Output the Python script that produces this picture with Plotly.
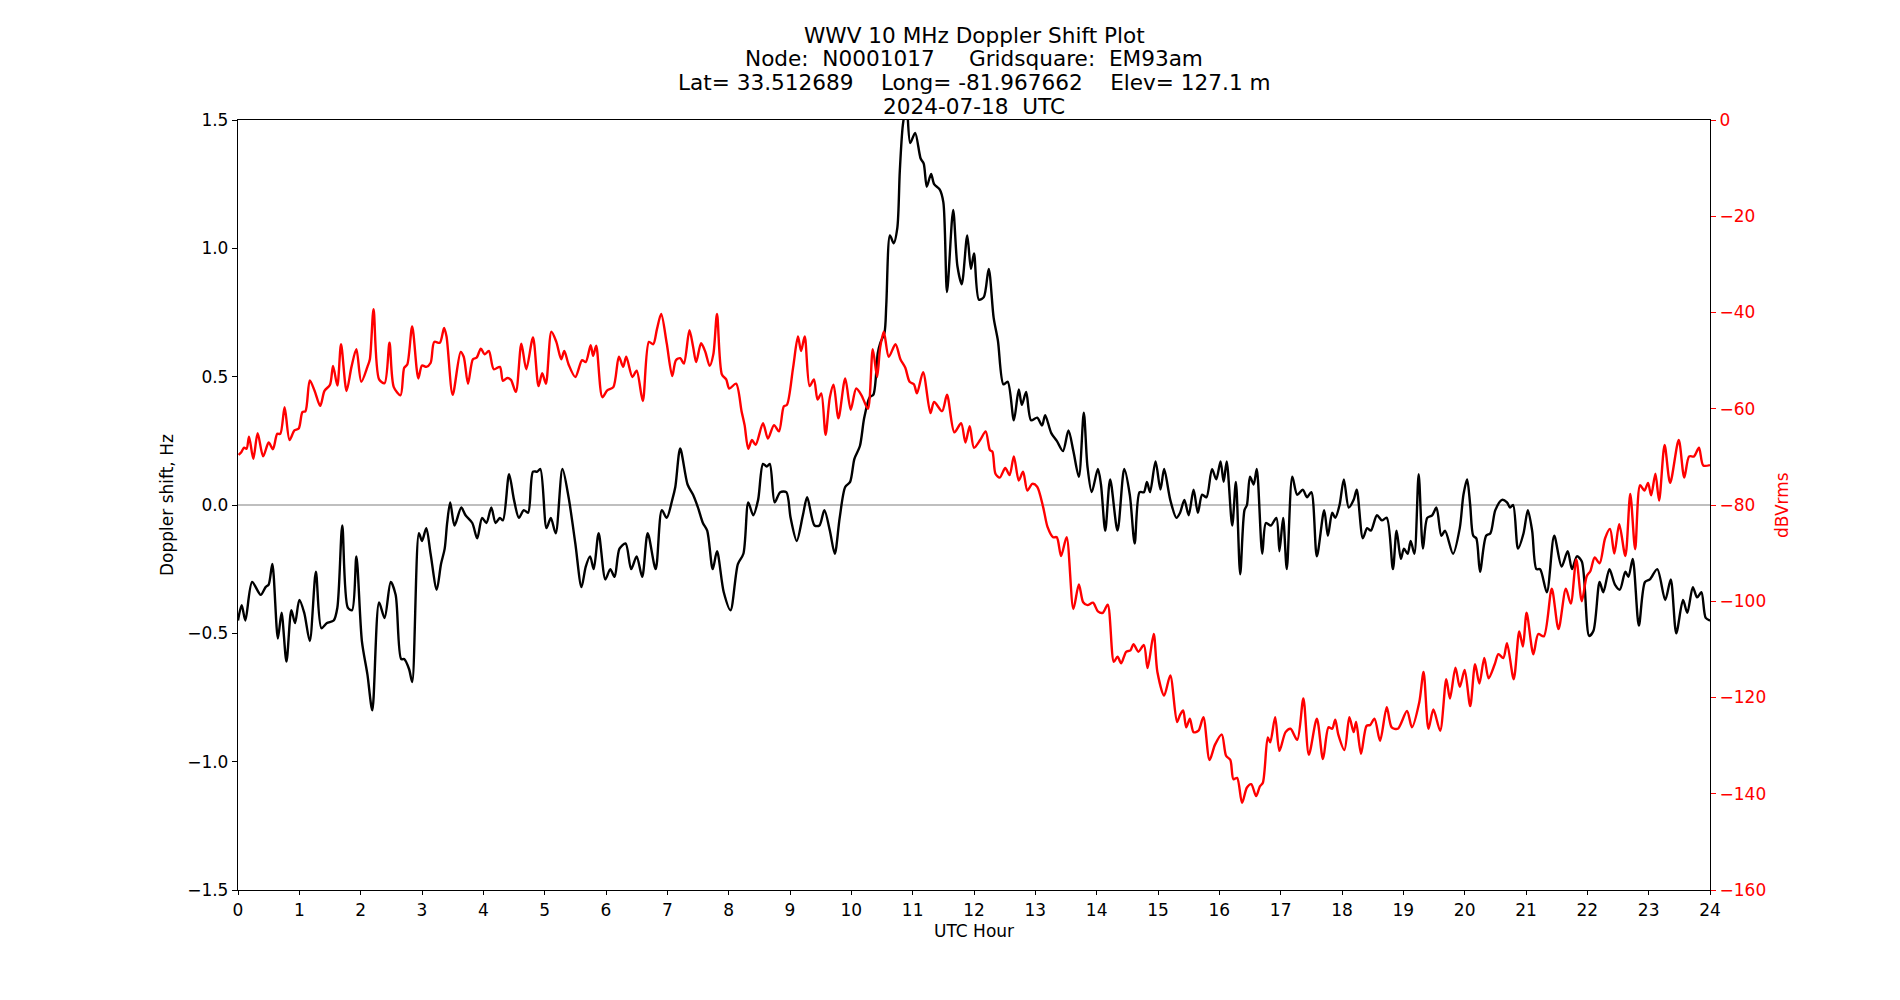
import plotly.graph_objects as go

# ---- Doppler shift (black, left axis) ----
hours_doppler = [
    0.00, 0.06, 0.12, 0.23, 0.37, 0.45, 0.50, 0.56, 0.65, 0.71, 0.79, 0.87, 0.93, 1.00, 1.08, 1.17,
    1.27, 1.36, 1.45, 1.56, 1.62, 1.70, 1.79, 1.86, 1.93, 2.02, 2.11, 2.19, 2.30, 2.39, 2.49, 2.57,
    2.66, 2.71, 2.79, 2.84, 2.95, 3.00, 3.07, 3.14, 3.24, 3.31, 3.37, 3.41, 3.46, 3.53, 3.64, 3.71,
    3.82, 3.90, 3.98, 4.05, 4.13, 4.20, 4.27, 4.32, 4.42, 4.50, 4.58, 4.66, 4.73, 4.81, 4.88, 4.93,
    5.03, 5.10, 5.18, 5.29, 5.39, 5.50, 5.60, 5.67, 5.74, 5.80, 5.88, 5.99, 6.07, 6.14, 6.22, 6.32,
    6.41, 6.50, 6.59, 6.68, 6.81, 6.91, 6.99, 7.08, 7.13, 7.21, 7.33, 7.42, 7.50, 7.58, 7.65, 7.74,
    7.81, 7.92, 8.03, 8.15, 8.24, 8.32, 8.40, 8.48, 8.56, 8.62, 8.67, 8.75, 8.84, 8.94, 9.01, 9.11,
    9.21, 9.28, 9.40, 9.48, 9.56, 9.65, 9.73, 9.81, 9.90, 9.98, 10.05, 10.14, 10.21, 10.30, 10.36,
    10.43, 10.47, 10.54, 10.57, 10.63, 10.69, 10.75, 10.79, 10.84, 10.90, 10.96, 11.04, 11.13, 11.18,
    11.23, 11.30, 11.35, 11.44, 11.50, 11.56, 11.66, 11.73, 11.80, 11.89, 11.95, 12.00, 12.08, 12.16,
    12.24, 12.32, 12.39, 12.48, 12.55, 12.65, 12.73, 12.78, 12.85, 12.93, 13.03, 13.11, 13.16, 13.26,
    13.35, 13.45, 13.54, 13.62, 13.71, 13.79, 13.85, 13.92, 14.02, 14.07, 14.14, 14.22, 14.34, 14.45,
    14.54, 14.62, 14.70, 14.77, 14.82, 14.87, 14.96, 15.04, 15.10, 15.20, 15.30, 15.36, 15.43, 15.50,
    15.58, 15.65, 15.72, 15.79, 15.88, 15.95, 16.02, 16.07, 16.12, 16.21, 16.27, 16.34, 16.41, 16.45,
    16.50, 16.56, 16.61, 16.70, 16.76, 16.84, 16.93, 16.98, 17.04, 17.10, 17.19, 17.27, 17.36, 17.43,
    17.50, 17.59, 17.71, 17.77, 17.84, 17.89, 17.96, 18.03, 18.11, 18.19, 18.24, 18.34, 18.41, 18.47,
    18.57, 18.65, 18.73, 18.83, 18.89, 18.96, 19.01, 19.07, 19.12, 19.18, 19.25, 19.32, 19.39, 19.47,
    19.54, 19.62, 19.68, 19.81, 19.92, 19.98, 20.04, 20.09, 20.14, 20.19, 20.25, 20.35, 20.42, 20.50,
    20.61, 20.69, 20.74, 20.79, 20.87, 20.96, 21.03, 21.10, 21.17, 21.23, 21.34, 21.46, 21.58, 21.68,
    21.75, 21.83, 21.91, 22.03, 22.10, 22.20, 22.26, 22.36, 22.45, 22.53, 22.62, 22.67, 22.74, 22.84,
    22.94, 23.02, 23.14, 23.27, 23.36, 23.45, 23.56, 23.63, 23.72, 23.79, 23.86, 23.93, 24.00,
]
doppler_hz = [
    -0.45, -0.39, -0.45, -0.30, -0.35, -0.32, -0.31, -0.23, -0.52, -0.42, -0.61, -0.41, -0.46, -0.37, -0.42, -0.53,
    -0.26, -0.48, -0.46, -0.45, -0.40, -0.08, -0.40, -0.41, -0.20, -0.53, -0.66, -0.80, -0.38, -0.44, -0.30, -0.35,
    -0.60, -0.60, -0.64, -0.69, -0.11, -0.14, -0.09, -0.19, -0.33, -0.23, -0.17, -0.07, 0.01, -0.08, -0.01, -0.04,
    -0.07, -0.13, -0.05, -0.07, -0.01, -0.07, -0.05, -0.06, 0.12, 0.02, -0.05, -0.02, -0.03, 0.13, 0.13, 0.14,
    -0.09, -0.05, -0.11, 0.14, 0.03, -0.15, -0.32, -0.24, -0.20, -0.25, -0.11, -0.29, -0.25, -0.28, -0.17, -0.15,
    -0.25, -0.20, -0.28, -0.11, -0.25, -0.02, -0.05, 0.02, 0.07, 0.22, 0.08, 0.04, -0.01, -0.07, -0.10, -0.25,
    -0.18, -0.34, -0.41, -0.23, -0.19, 0.01, -0.04, 0.02, 0.16, 0.15, 0.16, 0.01, 0.05, 0.05, -0.05, -0.14,
    -0.04, 0.03, -0.08, -0.08, -0.02, -0.10, -0.19, -0.05, 0.07, 0.09, 0.18, 0.23, 0.34, 0.42, 0.43,
    0.59, 0.63, 0.67, 0.78, 1.05, 1.02, 1.08, 1.30, 1.48, 1.56, 1.41, 1.45, 1.35, 1.33,
    1.24, 1.29, 1.25, 1.23, 1.18, 0.83, 1.15, 0.93, 0.86, 1.05, 0.92, 0.98, 0.80, 0.81,
    0.92, 0.73, 0.64, 0.47, 0.48, 0.33, 0.45, 0.39, 0.44, 0.33, 0.34, 0.31, 0.35, 0.28,
    0.25, 0.21, 0.29, 0.21, 0.11, 0.36, 0.15, 0.05, 0.14, 0.08, -0.10, 0.10, -0.10, 0.14,
    0.04, -0.15, 0.05, 0.05, 0.09, 0.05, 0.17, 0.06, 0.14, 0.02, -0.05, -0.03, 0.02, -0.04,
    0.06, -0.03, 0.04, 0.03, 0.14, 0.10, 0.17, 0.09, 0.17, -0.08, 0.09, -0.27, -0.02, 0.00,
    0.11, 0.08, 0.14, -0.19, -0.07, -0.08, -0.05, -0.18, -0.05, -0.25, 0.11, 0.04, 0.06, 0.03,
    0.05, -0.20, -0.02, -0.12, -0.03, -0.05, 0.00, 0.10, -0.01, 0.02, 0.06, -0.13, -0.09, -0.10,
    -0.04, -0.06, -0.05, -0.25, -0.10, -0.21, -0.17, -0.19, -0.14, -0.19, 0.12, -0.17, -0.05, -0.04,
    -0.01, -0.12, -0.10, -0.19, -0.09, 0.04, 0.10, 0.00, -0.12, -0.13, -0.26, -0.12, -0.11, -0.02,
    0.02, 0.01, -0.01, 0.00, -0.17, -0.11, -0.02, -0.10, -0.25, -0.25, -0.34, -0.12, -0.24, -0.18,
    -0.25, -0.20, -0.22, -0.51, -0.49, -0.30, -0.34, -0.25, -0.31, -0.33, -0.26, -0.28, -0.21, -0.47,
    -0.30, -0.29, -0.25, -0.37, -0.29, -0.50, -0.37, -0.42, -0.32, -0.36, -0.34, -0.44, -0.45,
]

# ---- Signal level (red, right axis) ----
hours_power = [
    0.01, 0.05, 0.10, 0.14, 0.18, 0.25, 0.32, 0.41, 0.50, 0.57, 0.64, 0.69, 0.76, 0.84, 0.92, 0.99,
    1.05, 1.10, 1.17, 1.25, 1.34, 1.41, 1.50, 1.55, 1.62, 1.68, 1.77, 1.85, 1.93, 2.01, 2.11, 2.15,
    2.21, 2.30, 2.39, 2.47, 2.54, 2.65, 2.71, 2.76, 2.84, 2.94, 3.00, 3.07, 3.14, 3.20, 3.29, 3.36,
    3.40, 3.50, 3.63, 3.68, 3.75, 3.83, 3.89, 3.96, 4.02, 4.09, 4.17, 4.27, 4.32, 4.39, 4.45, 4.53,
    4.62, 4.70, 4.81, 4.90, 4.96, 5.02, 5.11, 5.19, 5.27, 5.32, 5.39, 5.50, 5.61, 5.67, 5.75, 5.79,
    5.84, 5.94, 6.02, 6.12, 6.21, 6.28, 6.33, 6.43, 6.50, 6.60, 6.70, 6.77, 6.83, 6.90, 6.99, 7.08,
    7.14, 7.21, 7.27, 7.36, 7.42, 7.47, 7.55, 7.62, 7.69, 7.75, 7.81, 7.89, 7.96, 8.01, 8.12, 8.21,
    8.26, 8.32, 8.38, 8.44, 8.56, 8.64, 8.74, 8.82, 8.90, 8.95, 9.05, 9.13, 9.18, 9.24, 9.32, 9.39,
    9.45, 9.51, 9.58, 9.65, 9.71, 9.79, 9.90, 9.99, 10.08, 10.17, 10.27, 10.35, 10.42, 10.47, 10.53,
    10.61, 10.72, 10.80, 10.88, 10.95, 11.02, 11.07, 11.17, 11.29, 11.35, 11.48, 11.56, 11.68, 11.79,
    11.86, 11.93, 12.00, 12.10, 12.19, 12.26, 12.30, 12.35, 12.42, 12.51, 12.58, 12.65, 12.73, 12.80,
    12.87, 12.95, 13.03, 13.13, 13.20, 13.29, 13.35, 13.42, 13.51, 13.62, 13.71, 13.78, 13.85, 13.94,
    14.02, 14.10, 14.18, 14.28, 14.34, 14.40, 14.48, 14.55, 14.60, 14.68, 14.77, 14.83, 14.93, 14.99,
    15.10, 15.20, 15.31, 15.36, 15.41, 15.46, 15.52, 15.58, 15.66, 15.74, 15.84, 15.93, 16.04, 16.11,
    16.18, 16.23, 16.29, 16.37, 16.45, 16.52, 16.60, 16.66, 16.71, 16.79, 16.83, 16.91, 16.98, 17.08,
    17.16, 17.27, 17.37, 17.46, 17.59, 17.69, 17.78, 17.84, 17.89, 17.94, 18.04, 18.12, 18.19, 18.23,
    18.31, 18.40, 18.46, 18.53, 18.62, 18.73, 18.81, 18.91, 19.06, 19.14, 19.26, 19.33, 19.41, 19.49,
    19.60, 19.70, 19.76, 19.85, 19.92, 20.00, 20.09, 20.17, 20.24, 20.32, 20.39, 20.49, 20.55, 20.63,
    20.69, 20.80, 20.89, 20.95, 21.01, 21.12, 21.20, 21.29, 21.42, 21.53, 21.65, 21.73, 21.82, 21.91,
    21.99, 22.05, 22.12, 22.20, 22.29, 22.37, 22.44, 22.52, 22.62, 22.70, 22.78, 22.86, 22.93, 22.99,
    23.04, 23.11, 23.17, 23.26, 23.35, 23.49, 23.58, 23.66, 23.74, 23.82, 23.89, 24.00,
]
power_dbv = [
    -69.6, -69.1, -68.1, -68.3, -65.8, -70.4, -65.1, -69.9, -67.0, -68.4, -65.2, -65.2, -59.7, -66.5, -64.5, -64.1,
    -60.7, -60.5, -54.1, -56.3, -59.4, -56.3, -55.0, -51.1, -55.2, -46.6, -56.3, -51.3, -47.6, -54.4, -51.3, -49.7,
    -39.3, -53.9, -54.7, -46.3, -55.5, -57.2, -51.5, -50.8, -42.9, -53.7, -51.0, -51.3, -50.5, -46.1, -46.3, -43.2,
    -45.0, -57.1, -48.2, -49.2, -54.8, -49.7, -49.4, -47.5, -48.7, -48.0, -51.8, -51.3, -54.2, -53.6, -54.0, -56.5,
    -46.5, -51.8, -45.2, -55.3, -52.6, -54.8, -44.0, -46.1, -49.7, -48.0, -50.8, -53.4, -49.9, -50.3, -46.8, -49.0,
    -46.9, -57.6, -56.2, -55.5, -49.2, -51.3, -49.2, -53.4, -52.1, -58.4, -46.1, -46.6, -43.5, -40.3, -46.4, -53.2,
    -49.9, -49.5, -50.6, -43.7, -47.1, -50.3, -46.4, -48.2, -51.1, -48.7, -40.3, -52.9, -53.9, -55.8, -54.8, -60.5,
    -63.4, -68.3, -66.5, -67.5, -63.0, -66.2, -63.4, -64.7, -59.5, -59.2, -51.5, -45.0, -48.0, -45.0, -55.3, -53.9,
    -58.1, -56.8, -65.4, -57.6, -55.0, -62.0, -53.7, -60.2, -55.8, -57.3, -60.0, -47.6, -53.4, -47.3, -44.0,
    -49.2, -46.6, -49.7, -51.5, -54.4, -54.9, -56.8, -52.4, -60.9, -58.6, -60.5, -57.1, -64.9, -63.0,
    -67.0, -63.6, -68.1, -66.5, -64.7, -68.6, -68.9, -73.5, -74.3, -72.3, -73.8, -69.9, -74.9, -73.1,
    -77.0, -75.6, -76.2, -80.6, -84.6, -86.7, -86.7, -90.6, -86.7, -101.6, -96.5, -100.2, -100.8, -100.3,
    -102.1, -102.4, -100.7, -112.6, -111.5, -112.9, -110.5, -110.2, -108.9, -110.5, -109.1, -113.9, -106.8, -114.7,
    -119.6, -115.4, -125.1, -123.6, -122.7, -126.2, -124.4, -127.2, -126.9, -124.1, -133.0, -129.8, -127.7, -132.1,
    -133.0, -137.0, -136.7, -141.9, -138.7, -138.0, -140.5, -138.5, -137.7, -128.3, -129.3, -124.1, -131.1, -127.2,
    -126.5, -128.8, -120.2, -131.9, -124.4, -132.8, -126.2, -126.5, -124.6, -127.7, -130.9, -124.1, -127.2, -125.1,
    -131.7, -125.9, -125.7, -124.4, -129.0, -122.0, -126.2, -126.5, -122.8, -126.2, -121.0, -114.7, -126.5, -122.5,
    -126.9, -116.2, -120.2, -113.8, -117.8, -114.3, -121.8, -113.1, -117.1, -111.8, -116.0, -113.1, -111.0, -111.8,
    -108.7, -116.2, -106.3, -109.4, -102.4, -111.0, -106.8, -107.3, -97.4, -105.8, -97.4, -100.5, -91.3, -100.0,
    -94.8, -93.7, -90.9, -92.1, -86.9, -85.0, -90.1, -84.0, -90.6, -77.7, -89.2, -75.9, -77.0, -75.4,
    -78.0, -73.5, -79.1, -67.5, -75.4, -66.5, -74.3, -69.9, -69.9, -68.1, -71.8, -71.7,
]

# ---- Axis ticks ----
x_ticks = list(range(0, 25))
left_ticks = [-1.5, -1.0, -0.5, 0.0, 0.5, 1.0, 1.5]
left_labels = ["\u22121.5", "\u22121.0", "\u22120.5", "0.0", "0.5", "1.0", "1.5"]
right_ticks = [0, -20, -40, -60, -80, -100, -120, -140, -160]
right_labels = ["0", "\u221220", "\u221240", "\u221260", "\u221280", "\u2212100", "\u2212120", "\u2212140", "\u2212160"]

title_lines = [
    "WWV 10 MHz Doppler Shift Plot",
    "Node:  N0001017     Gridsquare:  EM93am",
    "Lat= 33.512689    Long= -81.967662    Elev= 127.1 m",
    "2024-07-18  UTC",
]

FONT = "DejaVu Sans"
NB = "\u00a0"

fig = go.Figure()
fig.add_trace(go.Scatter(
    x=hours_doppler, y=doppler_hz, mode="lines", yaxis="y",
    line=dict(color="black", width=2.4, shape="spline", smoothing=0.8),
    hoverinfo="skip",
))
fig.add_trace(go.Scatter(
    x=hours_power, y=power_dbv, mode="lines", yaxis="y2",
    line=dict(color="red", width=2.4, shape="spline", smoothing=0.8),
    hoverinfo="skip",
))

fig.add_shape(type="line", xref="x", yref="y", x0=0, x1=24, y0=0, y1=0,
              line=dict(color="gray", width=1.2), layer="below")

axis_common = dict(
    showgrid=False, zeroline=False, ticks="outside", tickwidth=1.3,
    showline=True, linecolor="black", linewidth=1.3,
)

fig.update_layout(
    width=1900, height=1000,
    margin=dict(l=238, r=190, t=120, b=110),
    paper_bgcolor="white", plot_bgcolor="white",
    showlegend=False,
    font=dict(family=FONT, size=17, color="black"),
    xaxis=dict(range=[0, 24], tickvals=x_ticks, ticktext=[str(t) for t in x_ticks],
               mirror=True, tickcolor="black", ticklen=4,
               tickfont=dict(family=FONT, size=17, color="black"),
               **axis_common),
    yaxis=dict(range=[-1.5, 1.5], tickvals=left_ticks, ticktext=left_labels,
               tickcolor="black", ticklen=5,
               tickfont=dict(family=FONT, size=17, color="black"),
               **axis_common),
    yaxis2=dict(range=[-160, 0], tickvals=right_ticks, ticktext=right_labels,
                overlaying="y", side="right", anchor="x",
                tickcolor="red", ticklen=5,
                tickfont=dict(family=FONT, size=17, color="red"),
                **axis_common),
)

title_y_px = [36, 58, 82, 106]
plot_top, plot_bottom = 120, 890
annotations = []
for txt, ypx in zip(title_lines, title_y_px):
    annotations.append(dict(
        text=txt.replace(" ", NB), xref="paper", yref="paper",
        x=0.5, y=(plot_bottom - ypx) / (plot_bottom - plot_top),
        xanchor="center", yanchor="middle", showarrow=False,
        font=dict(family=FONT, size=21.6, color="black"),
    ))
annotations.append(dict(
    text="UTC Hour", xref="paper", yref="paper", x=0.5, y=(plot_bottom - 931) / 770,
    xanchor="center", yanchor="middle", showarrow=False,
    font=dict(family=FONT, size=17, color="black"),
))
annotations.append(dict(
    text="Doppler shift, Hz", xref="paper", yref="paper", x=(167 - 238) / 1472, y=0.5,
    xanchor="center", yanchor="middle", showarrow=False, textangle=-90,
    font=dict(family=FONT, size=17, color="black"),
))
annotations.append(dict(
    text="dBVrms", xref="paper", yref="paper", x=(1782 - 238) / 1472, y=0.5,
    xanchor="center", yanchor="middle", showarrow=False, textangle=-90,
    font=dict(family=FONT, size=17, color="red"),
))
fig.update_layout(annotations=annotations)

fig.write_html("out.html")
